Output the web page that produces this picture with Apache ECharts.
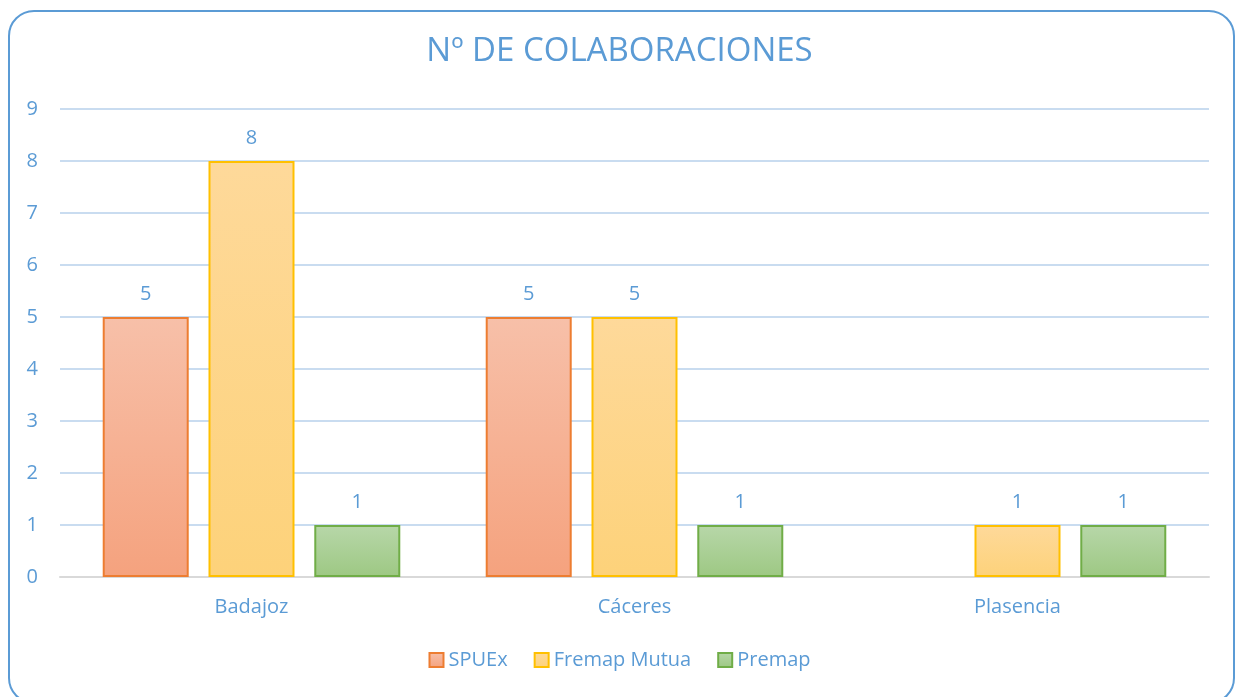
<!DOCTYPE html>
<html>
<head>
<meta charset="utf-8">
<script src="https://cdn.jsdelivr.net/npm/echarts@6/dist/echarts.min.js"></script>
<style>
  html, body { margin: 0; padding: 0; background: #fff; }
  #frame {
    position: absolute; left: 8px; top: 10px; width: 1227px; height: 694px;
    border: 2px solid #5b9bd5; border-radius: 26px; box-sizing: border-box;
  }
  #chart { position: absolute; left: 0; top: 0; width: 1239px; height: 697px; }
</style>
</head>
<body>
<div id="frame"></div>
<div id="chart"></div>
<script>
const categories = ["Badajoz", "Cáceres", "Plasencia"];
const spuex = [5, 5, null];
const fremap = [8, 5, 1];
const premap = [1, 1, 1];

const blue = "#5b9bd5";
const font = "'Open Sans', 'Liberation Sans', sans-serif";

function grad(top, bottom) {
  return new echarts.graphic.LinearGradient(0, 0, 0, 1, [
    { offset: 0, color: top },
    { offset: 1, color: bottom }
  ]);
}

function barSeries(name, data, top, bottom, border) {
  return {
    name: name,
    type: "bar",
    data: data,
    barWidth: 86,
    barGap: "23%",
    itemStyle: { color: grad(top, bottom), borderColor: border, borderWidth: 2 },
    label: {
      show: true,
      position: "top",
      distance: 13,
      color: blue,
      fontSize: 20,
      fontFamily: font
    }
  };
}

const chart = echarts.init(document.getElementById("chart"));
chart.setOption({
  animation: false,
  title: {
    text: "Nº DE COLABORACIONES",
    left: "center",
    top: 30,
    textStyle: { color: blue, fontSize: 33, fontWeight: "normal", fontFamily: font }
  },
  legend: {
    bottom: 22,
    left: "center",
    icon: "rect",
    itemWidth: 14,
    itemHeight: 14,
    itemGap: 26,
    textStyle: { color: blue, fontSize: 20, fontFamily: font }
  },
  grid: { left: 60, right: 30, top: 109, bottom: 120 },
  xAxis: {
    type: "category",
    data: categories,
    axisLine: { lineStyle: { color: "#d9d9d9", width: 2 } },
    axisTick: { show: false },
    axisLabel: { color: blue, fontSize: 20, fontFamily: font, margin: 20 }
  },
  yAxis: {
    type: "value",
    min: 0,
    max: 9,
    interval: 1,
    axisLine: { show: false },
    axisTick: { show: false },
    axisLabel: { color: blue, fontSize: 20, fontFamily: font, margin: 22 },
    splitLine: { lineStyle: { color: "#c9dcf0", width: 2 } }
  },
  series: [
    barSeries("SPUEx", spuex, "#f7c0a9", "#f5a27e", "#ed7d31"),
    barSeries("Fremap Mutua", fremap, "#fed99a", "#fdd27a", "#ffc000"),
    barSeries("Premap", premap, "#b7d7a9", "#9dc883", "#70ad47")
  ]
});
</script>
</body>
</html>
